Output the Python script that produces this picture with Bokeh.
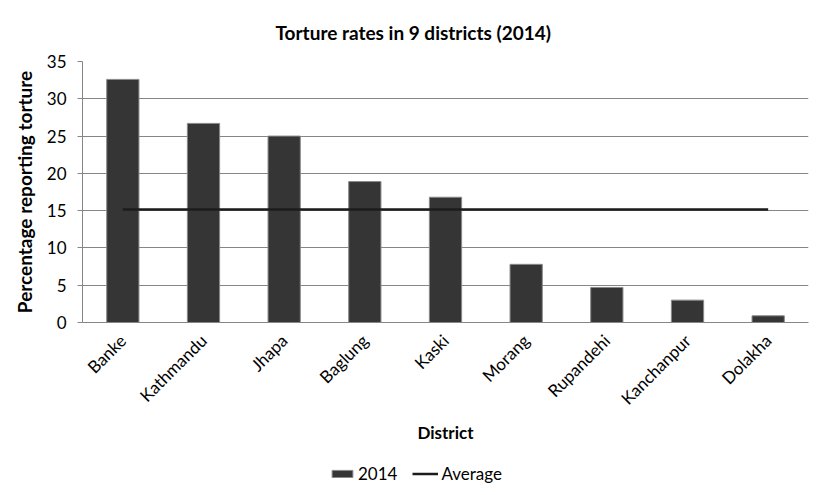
from math import pi
from bokeh.plotting import figure
from bokeh.layouts import column
from bokeh.models import ColumnDataSource, Legend, LegendItem, FactorRange, Range1d, SingleIntervalTicker
from bokeh.embed import file_html
from bokeh.resources import INLINE

districts = ["Banke", "Kathmandu", "Jhapa", "Baglung", "Kaski", "Morang",
             "Rupandehi", "Kanchanpur", "Dolakha"]
rates_2014 = [32.6, 26.7, 25.0, 18.9, 16.8, 7.8, 4.7, 3.0, 0.9]
average = [15.15, 15.15, 15.15, 15.15, 15.15, 15.15, 15.15, 15.15, 15.15]

FONT = "Lato"
BAR_FILL = "#353535"
BAR_LINE = "#8a8a8a"
AVG_COLOR = "#1c1c1c"

src = ColumnDataSource(dict(d=districts, v=rates_2014, a=average))

p = figure(width=821, height=450, x_range=FactorRange(*districts, range_padding=0),
           y_range=Range1d(0, 35), output_backend="svg", toolbar_location=None,
           min_border_left=82, min_border_right=13, min_border_top=61, min_border_bottom=128)

p.title.text = "Torture  rates in 9 districts  (2014)"
p.title.align = "left"
p.title.offset = 193
p.title.text_font = FONT
p.title.text_font_size = "19px"
p.title.text_font_style = "bold"
p.title.text_color = "#000000"
p.title.standoff = 36

bars = p.vbar(x="d", top="v", width=0.4, source=src, fill_color=BAR_FILL,
              line_color=BAR_LINE, line_width=1)
avg = p.line(x="d", y="a", source=src, line_color=AVG_COLOR, line_width=2.5)

p.outline_line_color = None
p.xgrid.grid_line_color = None
p.ygrid.grid_line_color = "#868686"
p.ygrid.grid_line_width = 1

p.yaxis.ticker = SingleIntervalTicker(interval=5)
p.yaxis.axis_line_color = "#868686"
p.yaxis.major_tick_line_color = "#868686"
p.yaxis.major_tick_out = 5
p.yaxis.major_tick_in = 0
p.yaxis.minor_tick_line_color = None
p.yaxis.major_label_text_font = FONT
p.yaxis.major_label_text_font_size = "17px"
p.yaxis.major_label_text_color = "#000000"
p.yaxis.major_label_standoff = 11
p.yaxis.axis_label = "Percentage reporting torture"
p.yaxis.axis_label_text_font = FONT
p.yaxis.axis_label_text_font_size = "19px"
p.yaxis.axis_label_text_font_style = "bold"
p.yaxis.axis_label_text_color = "#000000"
p.yaxis.axis_label_standoff = 8

p.xaxis.axis_line_color = "#868686"
p.xaxis.major_tick_line_color = None
p.xaxis.minor_tick_line_color = None
p.xaxis.major_label_orientation = pi / 4
p.xaxis.major_label_text_font = FONT
p.xaxis.major_label_text_font_size = "17px"
p.xaxis.major_label_text_color = "#000000"
p.xaxis.major_label_standoff = 9
p.xaxis.axis_label = "District"
p.xaxis.axis_label_text_font = FONT
p.xaxis.axis_label_text_font_size = "17px"
p.xaxis.axis_label_text_font_style = "bold"
p.xaxis.axis_label_text_color = "#000000"
p.xaxis.axis_label_standoff = 3

# legend strip below the chart: same series, drawn out of view so only the keys show
lf = figure(width=821, height=45, output_backend="svg", toolbar_location=None,
            x_axis_type=None, y_axis_type=None, min_border=0,
            x_range=FactorRange(*districts, range_padding=0), y_range=Range1d(1000, 1001))
lf.outline_line_color = None
lf.xgrid.grid_line_color = None
lf.ygrid.grid_line_color = None
key_bar = lf.vbar(x="d", top="v", width=0.4, source=src, fill_color=BAR_FILL,
                  line_color=BAR_LINE, line_width=1)
key_avg = lf.line(x="d", y="a", source=src, line_color=AVG_COLOR, line_width=2.5)

legend = Legend(items=[LegendItem(label="2014", renderers=[key_bar]),
                       LegendItem(label="Average", renderers=[key_avg])],
                orientation="horizontal", location=(247, 11))
legend.label_text_font = FONT
legend.label_text_font_size = "17px"
legend.label_text_color = "#000000"
legend.glyph_width = 26
legend.glyph_height = 9
legend.label_standoff = 3
legend.spacing = 15
legend.border_line_color = None
legend.background_fill_alpha = 0
legend.margin = 0
legend.padding = 0
lf.add_layout(legend, "center")

layout = column(p, lf, spacing=0)

open("out.html", "w").write(file_html(layout, INLINE))
